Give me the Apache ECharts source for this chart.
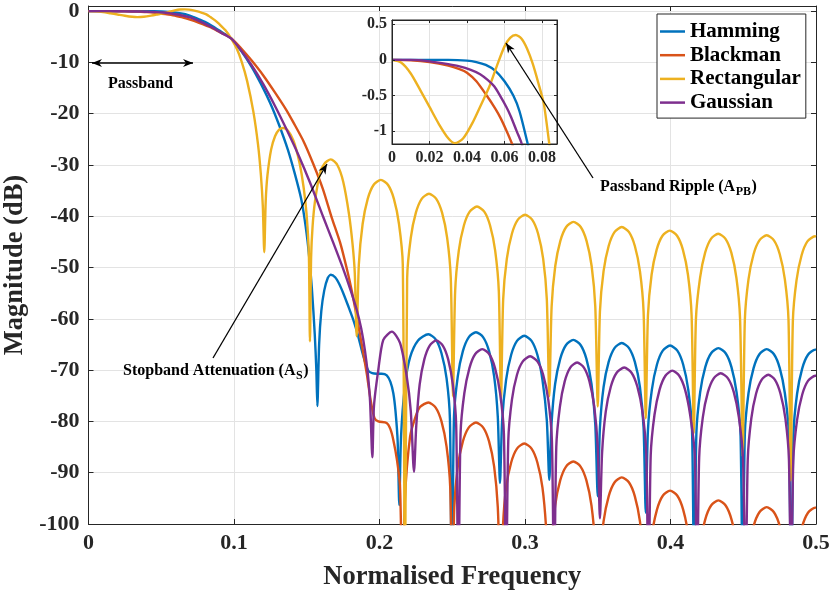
<!DOCTYPE html>
<html><head><meta charset="utf-8">
<script src="https://cdn.jsdelivr.net/npm/echarts@6/dist/echarts.min.js"></script>
<style>html,body{margin:0;padding:0;background:#fff}#c{width:829px;height:596px}</style>
</head><body><div id="c"></div>
<script>
// ---------- data ----------
const seriesNames = ['Hamming', 'Blackman', 'Rectangular', 'Gaussian'];
const xTickValues = [0, 0.1, 0.2, 0.3, 0.4, 0.5];
const yTickValues = [0, -10, -20, -30, -40, -50, -60, -70, -80, -90, -100];
const insetXTicks = [0, 0.02, 0.04, 0.06, 0.08];
const insetYTicks = [-1, -0.5, 0, 0.5];

const hamming = [
[0,0],[0.01,0],[0.02,0],[0.03,0],[0.04,-0.01],[0.045,-0.03],[0.05,-0.07],[0.055,-0.15],[0.06,-0.3],[0.0647,-0.5],[0.068,-0.72],[0.0723,-1.17],[0.076,-1.6],[0.08,-2.1],[0.085,-2.9],[0.09,-3.8],[0.094,-4.5],[0.098,-5.3],
[0.105,-7.8],[0.112,-10.8],[0.118,-13.9],[0.125,-18.0],[0.131,-22.2],[0.137,-27.0],[0.1415,-31.4],[0.146,-36.4],[0.1485,-40.5],[0.151,-46],[0.1535,-54],[0.1555,-63],[0.1566,-70],[0.1573,-77],
[0.1585,-65],[0.16,-58.5],[0.162,-54.5],[0.1645,-52],[0.1665,-51.4],[0.1695,-51.9],[0.1725,-53.3],[0.1751,-55],[0.1785,-57.5],[0.182,-60.2],[0.185,-63],[0.1877,-66],[0.1905,-68.8],[0.1925,-70.2],[0.195,-70.6],[0.198,-70.7],[0.2015,-70.7],[0.205,-71],[0.2075,-72.3],[0.2095,-74.5],[0.211,-78],[0.2125,-84],[0.2136,-96.3],
[0.2148,-83],[0.2175,-73],[0.221,-67.5],[0.2265,-64.2],[0.2336,-63.0],[0.2386,-64.0],[0.2426,-66.7],[0.2461,-71.6],[0.2484,-79.5],[0.2497,-115],
[0.2512,-79.1],[0.2538,-71.2],[0.2573,-66.3],[0.2613,-63.6],[0.2663,-62.6],[0.2713,-63.6],[0.2753,-66.3],[0.2788,-71.2],[0.2813,-79.1],[0.2828,-92],
[0.2843,-79.8],[0.287,-71.9],[0.2905,-67],[0.2945,-64.3],[0.2995,-63.3],[0.3045,-64.3],[0.3085,-67],[0.312,-71.9],[0.315,-79.8],[0.3167,-91.4],
[0.3182,-80.6],[0.3207,-72.7],[0.3242,-67.8],[0.3282,-65.1],[0.3332,-64.1],[0.3382,-65.1],[0.3422,-67.8],[0.3457,-72.7],[0.3483,-80.6],[0.35,-94.6],
[0.3515,-81.2],[0.354,-73.3],[0.3575,-68.4],[0.3615,-65.7],[0.3665,-64.7],[0.3715,-65.7],[0.3755,-68.4],[0.379,-73.3],[0.3815,-81.2],[0.383,-97.8],
[0.3845,-81.7],[0.3872,-73.8],[0.3907,-68.9],[0.3947,-66.2],[0.3997,-65.2],[0.4047,-66.2],[0.4087,-68.9],[0.4122,-73.8],[0.4148,-81.7],[0.4163,-115],
[0.4178,-82.2],[0.4204,-74.3],[0.4239,-69.4],[0.4279,-66.7],[0.4329,-65.7],[0.4379,-66.7],[0.4419,-69.4],[0.4454,-74.3],[0.4481,-82.2],[0.4496,-115],
[0.4511,-82.4],[0.4536,-74.5],[0.4571,-69.6],[0.4611,-66.9],[0.4661,-65.9],[0.4711,-66.9],[0.4751,-69.6],[0.4786,-74.5],[0.4813,-82.4],[0.483,-115],
[0.4845,-82.5],[0.487,-74.6],[0.4905,-69.7],[0.4945,-67],[0.4995,-66],[0.5,-66]
];

const blackman = [
[0,0],[0.01,-0.005],[0.02,-0.03],[0.03,-0.08],[0.036,-0.13],[0.04,-0.18],[0.045,-0.3],[0.0505,-0.5],[0.055,-0.68],[0.058,-0.82],[0.061,-0.99],[0.0639,-1.17],[0.067,-1.4],[0.072,-1.85],[0.078,-2.5],[0.085,-3.3],[0.091,-4.2],[0.098,-5.3],
[0.105,-7.3],[0.112,-9.6],[0.12,-12.5],[0.128,-15.8],[0.136,-19.3],[0.1408,-21.7],[0.148,-25.5],[0.1545,-29.8],[0.161,-34.6],[0.1671,-40.2],[0.173,-45.2],[0.1775,-50.2],[0.181,-54.6],[0.1843,-59.5],[0.1878,-65],[0.1912,-70.6],[0.194,-76],[0.1965,-79.3],[0.1992,-80],[0.2049,-80.3],[0.2075,-81.5],[0.2095,-83.6],[0.212,-87.5],[0.2141,-92.7],[0.2159,-115],
[0.2175,-95],[0.221,-83],[0.2245,-79.3],[0.2278,-77.2],[0.2336,-76.3],[0.2386,-77.3],[0.2426,-80],[0.2461,-84.9],[0.2486,-92.8],[0.25,-115],
[0.2514,-96.7],[0.2538,-88.8],[0.2573,-83.9],[0.2613,-81.2],[0.2663,-80.2],[0.2713,-81.2],[0.2753,-83.9],[0.2788,-88.8],[0.2813,-96.7],[0.2835,-115],
[0.2848,-100.8],[0.287,-92.9],[0.2905,-88],[0.2945,-85.3],[0.2995,-84.3],[0.3045,-85.3],[0.3085,-88],[0.312,-92.9],[0.3145,-100.8],[0.3167,-115],
[0.3182,-104.3],[0.3207,-96.4],[0.3242,-91.5],[0.3282,-88.8],[0.3332,-87.8],[0.3382,-88.8],[0.3422,-91.5],[0.3457,-96.4],[0.3483,-104.3],[0.35,-115],
[0.3515,-107.4],[0.354,-99.5],[0.3575,-94.6],[0.3615,-91.9],[0.3665,-90.9],[0.3715,-91.9],[0.3755,-94.6],[0.379,-99.5],[0.3815,-107.4],[0.383,-115],
[0.3845,-110],[0.3872,-102.1],[0.3907,-97.2],[0.3947,-94.5],[0.3997,-93.5],[0.4047,-94.5],[0.4087,-97.2],[0.4122,-102.1],[0.4148,-110],[0.4163,-115],
[0.4178,-112],[0.4204,-104],[0.4239,-99.1],[0.4279,-96.4],[0.4329,-95.4],[0.4379,-96.4],[0.4419,-99.1],[0.4454,-104],[0.4481,-112],[0.4496,-115],
[0.4511,-113],[0.4536,-105.3],[0.4571,-100.4],[0.4611,-97.7],[0.4661,-96.7],[0.4711,-97.7],[0.4751,-100.4],[0.4786,-105.3],[0.4813,-113],[0.483,-115],
[0.4845,-113],[0.487,-105.4],[0.4905,-100.5],[0.4945,-97.8],[0.4995,-96.8],[0.5,-96.8]
];

const rectangular = [
[0,0],[0.005,-0.04],[0.01,-0.19],[0.015,-0.42],[0.02,-0.66],[0.025,-0.9],[0.03,-1.1],[0.0335,-1.17],[0.038,-1.1],[0.043,-0.88],[0.048,-0.6],[0.052,-0.37],[0.056,-0.08],[0.06,0.19],[0.063,0.31],[0.066,0.35],[0.069,0.3],[0.072,0.16],[0.075,-0.05],[0.078,-0.32],[0.081,-0.62],[0.0838,-1.16],[0.087,-1.8],[0.09,-2.55],[0.094,-3.7],[0.098,-5.3],
[0.102,-7.4],[0.1053,-9.9],[0.109,-13.6],[0.1133,-19.6],[0.1165,-26],[0.1185,-32],[0.1198,-38],[0.1208,-47],[0.1218,-37],[0.123,-32],[0.1255,-27],[0.1282,-24.4],[0.131,-23.1],[0.1339,-22.8],[0.137,-23.3],[0.1408,-25.2],[0.144,-28.3],[0.1465,-31.8],[0.149,-37],[0.1505,-42],[0.1515,-48],[0.1522,-64.4],
[0.153,-48],[0.154,-42],[0.1557,-37],[0.1591,-31.6],[0.162,-29.8],[0.1665,-28.9],[0.171,-30],[0.1751,-33.3],[0.179,-39.5],[0.1815,-45.5],[0.183,-51],[0.1843,-63.4],
[0.1858,-49.4],[0.1884,-41.5],[0.1919,-36.6],[0.1959,-33.9],[0.2009,-32.9],[0.2059,-33.9],[0.2099,-36.6],[0.2134,-41.5],[0.216,-49.4],[0.2175,-115],
[0.219,-52.1],[0.2215,-44.2],[0.225,-39.3],[0.229,-36.6],[0.234,-35.6],[0.239,-36.6],[0.243,-39.3],[0.2465,-44.2],[0.249,-52.1],[0.2505,-75.1],
[0.252,-54.6],[0.2545,-46.7],[0.258,-41.8],[0.262,-39.1],[0.267,-38.1],[0.272,-39.1],[0.276,-41.8],[0.2795,-46.7],[0.282,-54.6],[0.2835,-76],
[0.285,-56.2],[0.2875,-48.3],[0.291,-43.4],[0.295,-40.7],[0.3,-39.7],[0.305,-40.7],[0.309,-43.4],[0.3125,-48.3],[0.315,-56.2],[0.3167,-75.1],
[0.3183,-57.6],[0.3208,-49.7],[0.3243,-44.8],[0.3283,-42.1],[0.3333,-41.1],[0.3383,-42.1],[0.3423,-44.8],[0.3458,-49.7],[0.3483,-57.6],[0.35,-77.1],
[0.3515,-58.6],[0.354,-50.7],[0.3575,-45.8],[0.3615,-43.1],[0.3665,-42.1],[0.3715,-43.1],[0.3755,-45.8],[0.379,-50.7],[0.3815,-58.6],[0.383,-79.4],
[0.3845,-59.3],[0.387,-51.4],[0.3905,-46.5],[0.3945,-43.8],[0.3995,-42.8],[0.4045,-43.8],[0.4085,-46.5],[0.412,-51.4],[0.4145,-59.3],[0.416,-82.3],
[0.4175,-59.9],[0.4203,-52],[0.4238,-47.1],[0.4278,-44.4],[0.4328,-43.4],[0.4378,-44.4],[0.4418,-47.1],[0.4453,-52],[0.4478,-59.9],[0.4496,-86.9],
[0.4511,-60.2],[0.4536,-52.3],[0.4571,-47.4],[0.4611,-44.7],[0.4661,-43.7],[0.4711,-44.7],[0.4751,-47.4],[0.4786,-52.3],[0.4811,-60.2],[0.4826,-91.5],
[0.4841,-60.4],[0.4866,-52.5],[0.4901,-47.6],[0.4941,-44.9],[0.4993,-43.9],[0.5,-43.95]
];

const gaussian = [
[0,0],[0.01,0],[0.02,-0.02],[0.03,-0.06],[0.036,-0.09],[0.042,-0.14],[0.047,-0.2],[0.051,-0.28],[0.0545,-0.37],[0.0576,-0.5],[0.061,-0.66],[0.0635,-0.8],[0.0665,-1.0],[0.0691,-1.17],[0.0725,-1.5],[0.078,-2.2],[0.085,-3.2],[0.091,-4.2],[0.098,-5.3],
[0.105,-7.7],[0.112,-10.5],[0.12,-14.2],[0.128,-18.4],[0.136,-23.0],[0.1442,-28.0],[0.1525,-33.6],[0.1614,-40.2],[0.168,-45.0],[0.1751,-50.3],[0.18,-54.3],[0.1843,-58.2],[0.1875,-62],[0.19,-66.2],[0.192,-70.8],[0.1935,-76],[0.1951,-87],
[0.1962,-77],[0.1992,-69.9],[0.2026,-64.1],[0.2085,-62.5],[0.2141,-64.7],[0.2187,-71.2],[0.2215,-78],[0.2237,-89.8],
[0.2253,-80.7],[0.2276,-72.8],[0.2308,-67.9],[0.2345,-65.2],[0.239,-64.2],[0.2435,-65.2],[0.2472,-67.9],[0.2504,-72.8],[0.2527,-80.7],[0.2542,-115],
[0.2557,-82.4],[0.2583,-74.5],[0.2618,-69.6],[0.2657,-66.9],[0.2706,-65.9],[0.2755,-66.9],[0.2794,-69.6],[0.2829,-74.5],[0.2855,-82.4],[0.287,-115],
[0.2885,-83.8],[0.291,-75.8],[0.2945,-70.9],[0.2985,-68.3],[0.3035,-67.3],[0.3085,-68.3],[0.3125,-70.9],[0.316,-75.8],[0.3185,-83.8],[0.32,-115],
[0.3215,-85],[0.324,-77.1],[0.3273,-72.2],[0.3311,-69.5],[0.3358,-68.5],[0.3405,-69.5],[0.3443,-72.2],[0.3476,-77.1],[0.35,-85],[0.3515,-98.9],
[0.353,-86],[0.3555,-78.1],[0.359,-73.2],[0.363,-70.5],[0.3682,-69.5],[0.3732,-70.5],[0.3772,-73.2],[0.3807,-78.1],[0.3833,-86],[0.3849,-115],
[0.3864,-86.6],[0.389,-78.7],[0.3925,-73.8],[0.3965,-71.1],[0.4012,-70.1],[0.406,-71.1],[0.41,-73.8],[0.4135,-78.7],[0.4167,-86.6],[0.4182,-115],
[0.4197,-87.1],[0.4222,-79.2],[0.4257,-74.3],[0.4297,-71.6],[0.4345,-70.6],[0.4395,-71.6],[0.4435,-74.3],[0.447,-79.2],[0.4498,-87.1],[0.4516,-115],
[0.4531,-87.4],[0.4555,-79.5],[0.4588,-74.6],[0.4626,-71.9],[0.4672,-70.9],[0.4718,-71.9],[0.4756,-74.6],[0.479,-79.5],[0.4814,-87.4],[0.4829,-115],
[0.4844,-87.6],[0.487,-79.7],[0.4905,-74.8],[0.4945,-72.1],[0.4995,-71.1],[0.5,-71.1]
];

// ---------- style ----------
const colors = ['#0072BD', '#D95319', '#EDB120', '#7E2F8E'];
const seriesData = [hamming, blackman, rectangular, gaussian];
const FONT = 'Liberation Serif';
const axisColor = '#262626';
const gridColor = '#e3e3e3';

const chart = echarts.init(document.getElementById('c'), null, {renderer: 'canvas'});

function fmt(v) { return String(Math.round(v * 1000) / 1000); }

const mainX = {
  type: 'value', gridIndex: 0, min: 0, max: 0.5, interval: 0.1, position: 'bottom',
  name: 'Normalised Frequency', nameLocation: 'middle', nameGap: 40,
  nameTextStyle: {fontFamily: FONT, fontWeight: 'bold', fontSize: 26.5, color: '#262626'},
  axisLine: {show: true, onZero: false, lineStyle: {color: axisColor, width: 1}},
  axisTick: {show: true, inside: true, length: 5, lineStyle: {color: axisColor}},
  axisLabel: {margin: 8, fontFamily: FONT, fontWeight: 'bold', fontSize: 22, color: '#262626', formatter: fmt},
  splitLine: {show: true, lineStyle: {color: gridColor, width: 1}}
};
const mainXTop = {
  type: 'value', gridIndex: 0, min: 0, max: 0.5, interval: 0.1, position: 'top',
  axisLine: {show: true, onZero: false, lineStyle: {color: axisColor, width: 1}},
  axisTick: {show: true, inside: true, length: 5, lineStyle: {color: axisColor}},
  axisLabel: {show: false}, splitLine: {show: false}
};
const mainY = {
  type: 'value', gridIndex: 0, min: -100, max: 1, interval: 10, position: 'left',
  name: 'Magnitude (dB)', nameLocation: 'middle', nameGap: 52,
  nameTextStyle: {fontFamily: FONT, fontWeight: 'bold', fontSize: 26.5, color: '#262626'},
  axisLine: {show: true, onZero: false, lineStyle: {color: axisColor, width: 1}},
  axisTick: {show: true, inside: true, length: 5, lineStyle: {color: axisColor}},
  axisLabel: {margin: 9, fontFamily: FONT, fontWeight: 'bold', fontSize: 22, color: '#262626',
    formatter: v => (yTickValues.indexOf(Math.round(v * 1000) / 1000) >= 0 ? String(v) : '')},
  splitLine: {show: true, lineStyle: {color: gridColor, width: 1}}
};
const mainYRight = {
  type: 'value', gridIndex: 0, min: -100, max: 1, interval: 10, position: 'right',
  axisLine: {show: true, onZero: false, lineStyle: {color: axisColor, width: 1}},
  axisTick: {show: true, inside: true, length: 5, lineStyle: {color: axisColor}},
  axisLabel: {show: false}, splitLine: {show: false}
};
const insetX = {
  type: 'value', gridIndex: 1, min: 0, max: 0.088, position: 'bottom', z: 6,
  axisLine: {show: true, onZero: false, lineStyle: {color: axisColor, width: 1}},
  axisTick: {show: true, inside: true, length: 3, customValues: insetXTicks, lineStyle: {color: axisColor}},
  axisLabel: {margin: 6, customValues: insetXTicks, fontFamily: FONT, fontWeight: 'bold', fontSize: 16, color: '#262626', formatter: fmt},
  splitLine: {show: false}
};
const insetXTop = {
  type: 'value', gridIndex: 1, min: 0, max: 0.088, position: 'top', z: 6,
  axisLine: {show: true, onZero: false, lineStyle: {color: axisColor, width: 1}},
  axisTick: {show: true, inside: true, length: 3, customValues: insetXTicks, lineStyle: {color: axisColor}},
  axisLabel: {show: false}, splitLine: {show: false}
};
const insetY = {
  type: 'value', gridIndex: 1, min: -1.18, max: 0.56, position: 'left', z: 6,
  axisLine: {show: true, onZero: false, lineStyle: {color: axisColor, width: 1}},
  axisTick: {show: true, inside: true, length: 3, customValues: insetYTicks, lineStyle: {color: axisColor}},
  axisLabel: {margin: 5, customValues: insetYTicks, fontFamily: FONT, fontWeight: 'bold', fontSize: 16, color: '#262626', formatter: fmt},
  splitLine: {show: false}
};
const insetYRight = {
  type: 'value', gridIndex: 1, min: -1.18, max: 0.56, position: 'right', z: 6,
  axisLine: {show: true, onZero: false, lineStyle: {color: axisColor, width: 1}},
  axisTick: {show: true, inside: true, length: 3, customValues: insetYTicks, lineStyle: {color: axisColor}},
  axisLabel: {show: false}, splitLine: {show: false}
};

const series = [];
seriesData.forEach((d, i) => {
  series.push({
    name: seriesNames[i], type: 'line', xAxisIndex: 0, yAxisIndex: 0, data: d,
    showSymbol: false, symbol: 'none', smooth: 0.25, clip: true, z: 2,
    lineStyle: {color: colors[i], width: 2.4}, itemStyle: {color: colors[i]}, animation: false
  });
});
// inset grid lines (through the inset scales)
series.push({
  name: 'insetGridLines', type: 'line', xAxisIndex: 2, yAxisIndex: 2, data: [[0, 0]],
  symbol: 'none', lineStyle: {opacity: 0}, z: 4, silent: true,
  markLine: {
    silent: true, symbol: ['none', 'none'], label: {show: false}, animation: false,
    lineStyle: {color: gridColor, width: 1, type: 'solid'},
    data: insetXTicks.filter(v => v > 0).map(v => ({xAxis: v}))
      .concat(insetYTicks.map(v => ({yAxis: v})))
  }
});
seriesData.forEach((d, i) => {
  series.push({
    name: seriesNames[i], type: 'line', xAxisIndex: 2, yAxisIndex: 2, data: d,
    showSymbol: false, symbol: 'none', smooth: 0.25, clip: true, z: 5,
    lineStyle: {color: colors[i], width: 2.4}, itemStyle: {color: colors[i]}, animation: false
  });
});

// ---------- annotations ----------
function arrowHead(x1, y1, x2, y2, len, wid) {
  const dx = x2 - x1, dy = y2 - y1, L = Math.hypot(dx, dy);
  const ux = dx / L, uy = dy / L, nx = -uy, ny = ux;
  return [[x2, y2], [x2 - len * ux + wid * nx, y2 - len * uy + wid * ny],
          [x2 - 0.7 * len * ux, y2 - 0.7 * len * uy],
          [x2 - len * ux - wid * nx, y2 - len * uy - wid * ny]];
}
function arrow(x1, y1, x2, y2, both) {
  const els = [{type: 'line', z: 20, shape: {x1, y1, x2, y2}, style: {stroke: '#000', lineWidth: 1.3}}];
  els.push({type: 'polygon', z: 20, shape: {points: arrowHead(x1, y1, x2, y2, 10, 4)}, style: {fill: '#000'}});
  if (both) els.push({type: 'polygon', z: 20, shape: {points: arrowHead(x2, y2, x1, y1, 10, 4)}, style: {fill: '#000'}});
  return els;
}
const measureCtx = document.createElement('canvas').getContext('2d');
function tw(text, font) { measureCtx.font = font; return measureCtx.measureText(text).width; }
function subText(x, y, main, sub, size) {
  const f1 = 'bold ' + size + 'px "' + FONT + '"';
  const f2 = 'bold ' + Math.round(size * 0.78) + 'px "' + FONT + '"';
  const w1 = tw(main, f1), w2 = tw(sub, f2);
  return [
    {type: 'text', z: 20, x: x, y: y, style: {text: main, font: f1, fill: '#000', textAlign: 'left', textVerticalAlign: 'middle'}},
    {type: 'text', z: 20, x: x + w1 + 0.5, y: y + 5, style: {text: sub, font: f2, fill: '#000', textAlign: 'left', textVerticalAlign: 'middle'}},
    {type: 'text', z: 20, x: x + w1 + w2 + 1, y: y, style: {text: ')', font: f1, fill: '#000', textAlign: 'left', textVerticalAlign: 'middle'}}
  ];
}
const graphics = []
  .concat(arrow(92, 63, 193, 63, true))
  .concat([{type: 'text', z: 20, x: 108, y: 84, style: {text: 'Passband', font: 'bold 16px "' + FONT + '"', fill: '#000', textAlign: 'left', textVerticalAlign: 'middle'}}])
  .concat(arrow(213, 358, 327, 164, false))
  .concat(subText(123, 371, 'Stopband Attenuation (A', 'S', 16))
  .concat(arrow(593, 178, 506, 43, false))
  .concat(subText(600, 187, 'Passband Ripple (A', 'PB', 16));

const option = {
  animation: false,
  backgroundColor: '#fff',
  grid: [
    {left: 88.5, top: 6, width: 727.5, height: 518, show: false, outerBoundsMode: 'none', containLabel: false},
    {left: 392, top: 20, width: 165, height: 124, show: true, backgroundColor: '#fff', borderColor: axisColor, borderWidth: 1, z: 3, outerBoundsMode: 'none', containLabel: false}
  ],
  xAxis: [mainX, mainXTop, insetX, insetXTop],
  yAxis: [mainY, mainYRight, insetY, insetYRight],
  legend: {
    data: seriesNames, orient: 'vertical', left: 657, top: 14, z: 30,
    backgroundColor: '#fff', borderColor: axisColor, borderWidth: 1,
    padding: [7, 5, 5, 3], itemGap: 2.7, itemWidth: 25, itemHeight: 2.5, icon: 'rect',
    selectedMode: false,
    textStyle: {fontFamily: FONT, fontWeight: 'bold', fontSize: 21, color: '#000', lineHeight: 20}
  },
  series: series,
  graphic: graphics
};
chart.setOption(option);
</script>
</body></html>
